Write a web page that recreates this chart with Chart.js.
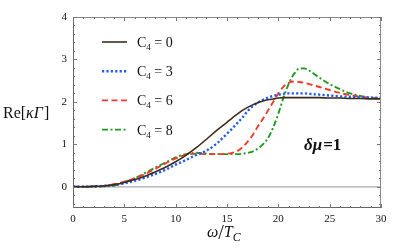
<!DOCTYPE html>
<html>
<head>
<meta charset="utf-8">
<script src="https://cdn.jsdelivr.net/npm/chart.js@4.4.0/dist/chart.umd.min.js"></script>
<style>
html,body{margin:0;padding:0;background:#fff;}
#wrap{width:415px;height:250px;position:relative;}
</style>
</head>
<body>
<div id="wrap"><canvas id="c" width="415" height="250"></canvas></div>
<script>
// ---- data ----
const xs = [0,1,2,3,4,5,6,7,8,9,10,11,12,13,14,15,15.5,16,16.5,17,17.5,18,18.5,19,19.5,20,20.5,21,21.5,22,22.5,23,24,25,26,27,28,29,30];
const c4Values = ['0','3','6','8'];
const yC4_0 = [0,0,0.01,0.02,0.05,0.1,0.17,0.25,0.35,0.46,0.59,0.74,0.92,1.12,1.33,1.52,1.62,1.71,1.8,1.87,1.93,1.98,2.02,2.05,2.07,2.09,2.1,2.1,2.1,2.1,2.1,2.1,2.1,2.09,2.09,2.08,2.08,2.07,2.07];
const yC4_3 = [0,0,0.01,0.02,0.04,0.08,0.14,0.21,0.3,0.4,0.52,0.63,0.75,0.85,1.02,1.25,1.37,1.5,1.63,1.78,1.9,1.98,2.05,2.1,2.14,2.17,2.19,2.2,2.2,2.2,2.2,2.19,2.17,2.15,2.13,2.12,2.11,2.1,2.1];
const yC4_6 = [0,0,0.01,0.02,0.06,0.12,0.2,0.3,0.42,0.55,0.67,0.75,0.78,0.77,0.77,0.78,0.8,0.84,0.93,1.06,1.22,1.42,1.6,1.8,2.0,2.2,2.36,2.45,2.48,2.47,2.45,2.42,2.35,2.28,2.21,2.16,2.12,2.1,2.08];
const yC4_8 = [0,0,0,0.01,0.03,0.11,0.2,0.32,0.45,0.57,0.69,0.77,0.8,0.78,0.77,0.77,0.77,0.77,0.78,0.8,0.83,0.9,1.0,1.15,1.4,1.72,2.1,2.42,2.65,2.78,2.79,2.74,2.57,2.42,2.3,2.2,2.14,2.1,2.08];
const xTickLabels = ['0','5','10','15','20','25','30'];
const yTickLabels = ['0','1','2','3','4'];

const series = [yC4_0, yC4_3, yC4_6, yC4_8];
const styles = [
  {color:'#3d2b1c', dash:[], width:1.6},
  {color:'#1f5cf0', dash:[2.2,2.2], width:2.4},
  {color:'#f23a2a', dash:[6,3.5], width:1.9},
  {color:'#1f9a1f', dash:[6,2.5,2,2.5], width:1.9}
];

const datasets = series.map((ys,i)=>({
  label:'C4 = '+c4Values[i],
  data: xs.map((x,j)=>({x:x,y:ys[j]})),
  borderColor: styles[i].color,
  borderDash: styles[i].dash,
  borderWidth: styles[i].width,
  pointRadius:0,
  fill:false,
  cubicInterpolationMode:'monotone'
}));

const SERIF = "'Liberation Serif','DejaVu Serif',serif";

const decor = {
  id:'decor',
  beforeDatasetsDraw(chart){
    const ctx = chart.ctx, x = chart.scales.x, y = chart.scales.y;
    const a = chart.chartArea;
    ctx.save();
    ctx.strokeStyle = '#aaaaaa';
    ctx.lineWidth = 1.2;
    const y0 = y.getPixelForValue(0);
    ctx.beginPath(); ctx.moveTo(a.left, y0); ctx.lineTo(a.right, y0); ctx.stroke();
    ctx.restore();
  },
  afterDatasetsDraw(chart){
    const ctx = chart.ctx, xs_ = chart.scales.x, ys_ = chart.scales.y;
    const a = chart.chartArea;
    ctx.save();
    // frame
    ctx.strokeStyle = '#888888';
    ctx.lineWidth = 1;
    ctx.strokeRect(a.left+0.5, a.top+0.5, a.right-a.left-1, a.bottom-a.top-1);
    ctx.strokeStyle = '#666666';
    ctx.beginPath();
    ctx.moveTo(a.left+0.5, a.top); ctx.lineTo(a.left+0.5, a.bottom);
    ctx.moveTo(a.left, a.bottom-0.5); ctx.lineTo(a.right, a.bottom-0.5);
    ctx.stroke();
    // ticks
    ctx.strokeStyle = '#777777';
    ctx.beginPath();
    for(let v=0; v<=30; v+=1){
      const px = Math.round(xs_.getPixelForValue(v))+0.5;
      const L = (v%5===0)?4:2;
      ctx.moveTo(px, a.bottom); ctx.lineTo(px, a.bottom-L);
      ctx.moveTo(px, a.top); ctx.lineTo(px, a.top+L);
    }
    for(let k=-2; k<=20; k++){
      const v = k*0.2;
      const py = Math.round(ys_.getPixelForValue(v))+0.5;
      const L = (k%5===0)?4:2;
      ctx.moveTo(a.left, py); ctx.lineTo(a.left+L, py);
      ctx.moveTo(a.right, py); ctx.lineTo(a.right-L, py);
    }
    ctx.stroke();

    // legend
    chart.data.datasets.forEach((ds,i)=>{
      const yy = 42 + i*29.2;
      ctx.strokeStyle = ds.borderColor;
      ctx.lineWidth = ds.borderWidth;
      ctx.setLineDash(ds.borderDash);
      ctx.beginPath(); ctx.moveTo(102, yy); ctx.lineTo(127, yy); ctx.stroke();
      ctx.setLineDash([]);
      ctx.fillStyle = '#111';
      ctx.textBaseline = 'alphabetic';
      ctx.textAlign = 'left';
      ctx.font = '14px '+SERIF;
      let tx = 137;
      ctx.fillText('C', tx, yy+5);
      tx += ctx.measureText('C').width;
      ctx.font = '9px '+SERIF;
      ctx.fillText('4', tx, yy+8);
      tx += ctx.measureText('4').width;
      ctx.font = '14px '+SERIF;
      ctx.fillText(' = '+c4Values[i], tx, yy+5);
    });

    // delta mu label
    ctx.fillStyle = '#111';
    ctx.font = 'italic bold 17px '+SERIF;
    ctx.fillText('δμ', 304, 150);
    let w = ctx.measureText('δμ').width;
    ctx.font = 'bold 17px '+SERIF;
    ctx.fillText('=1', 304+w+1, 150);

    // y axis title
    ctx.font = '16px '+SERIF;
    let tx = 3;
    ctx.fillText('Re[', tx, 118);
    tx += ctx.measureText('Re[').width;
    ctx.font = 'italic 16px '+SERIF;
    ctx.fillText('κΓ', tx, 118);
    tx += ctx.measureText('κΓ').width;
    ctx.font = '16px '+SERIF;
    ctx.fillText(']', tx+1, 118);

    // x axis title
    ctx.font = 'italic 16px '+SERIF;
    tx = 207;
    ctx.fillText('ω', tx, 237);
    tx += ctx.measureText('ω').width;
    ctx.font = '20px '+SERIF;
    ctx.fillText('/', tx, 239);
    tx += ctx.measureText('/').width;
    ctx.font = 'italic 16px '+SERIF;
    ctx.fillText('T', tx, 237);
    tx += ctx.measureText('T').width;
    ctx.font = 'italic 12px '+SERIF;
    ctx.fillText('C', tx, 241);
    ctx.restore();
  }
};

new Chart(document.getElementById('c'), {
  type:'line',
  data:{datasets:datasets},
  options:{
    responsive:false,
    animation:false,
    events:[],
    layout:{padding:{left:0,top:17,right:34,bottom:0}},
    plugins:{legend:{display:false},tooltip:{enabled:false}},
    scales:{
      x:{
        type:'linear', min:0, max:30,
        grid:{display:false, drawTicks:false},
        border:{display:false},
        ticks:{stepSize:5, padding:5, color:'#111', font:{family:SERIF,size:11},
          maxRotation:0,
          callback:(v)=>{const s=String(v); return xTickLabels.includes(s)?s:null;}},
        afterFit:(s)=>{s.height=42;}
      },
      y:{
        type:'linear', min:-0.5, max:4,
        grid:{display:false, drawTicks:false},
        border:{display:false},
        ticks:{stepSize:1, padding:6, color:'#111', font:{family:SERIF,size:11},
          callback:(v)=>{const s=String(v); return yTickLabels.includes(s)?s:null;}},
        afterFit:(s)=>{s.width=73;}
      }
    }
  },
  plugins:[decor]
});
</script>
</body>
</html>
